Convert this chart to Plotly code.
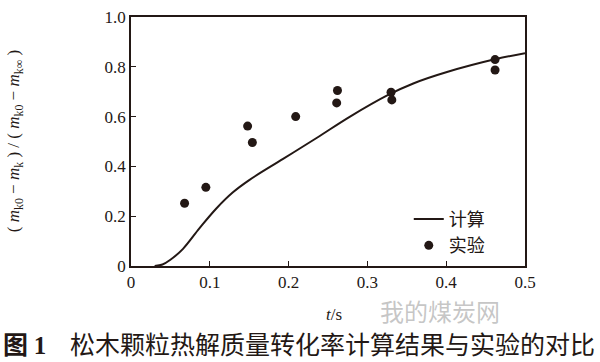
import plotly.graph_objects as go

# Calculated curve
calc_t = [0.030, 0.040, 0.050, 0.066, 0.087, 0.108, 0.129, 0.150, 0.193,
          0.236, 0.278, 0.327, 0.359, 0.401, 0.463, 0.500]
calc_y = [0.000, 0.006, 0.025, 0.069, 0.152, 0.230, 0.295, 0.345, 0.430,
          0.515, 0.600, 0.688, 0.734, 0.779, 0.831, 0.855]

# Experimental points
exp_t = [0.068, 0.095, 0.148, 0.154, 0.209, 0.262, 0.261, 0.330, 0.331, 0.462, 0.462]
exp_y = [0.252, 0.316, 0.562, 0.496, 0.600, 0.705, 0.655, 0.698, 0.667, 0.829, 0.787]

x_ticks = [0, 0.1, 0.2, 0.3, 0.4, 0.5]
x_labels = ["0", "0.1", "0.2", "0.3", "0.4", "0.5"]
y_ticks = [0, 0.2, 0.4, 0.6, 0.8, 1.0]
y_labels = ["0", "0.2", "0.4", "0.6", "0.8", "1.0"]

ink = "#231815"
serif = "Liberation Serif"
cjk = "Noto Sans CJK SC"

fig = go.Figure()
fig.add_trace(go.Scatter(x=calc_t, y=calc_y, mode="lines", name="计算",
                         line=dict(color=ink, width=2, shape="spline", smoothing=1.0)))
fig.add_trace(go.Scatter(x=exp_t, y=exp_y, mode="markers", name="实验",
                         marker=dict(color=ink, size=9)))

axis_common = dict(showgrid=False, zeroline=False, showline=True, linecolor=ink, linewidth=1.8,
                   mirror=True, ticks="inside", ticklen=5, tickwidth=1.2, tickcolor=ink,
                   ticklabeloverflow="allow",
                   tickfont=dict(family=serif, size=17, color=ink))

fig.update_layout(
    width=600, height=362,
    margin=dict(l=131, r=75, t=8, b=96),
    paper_bgcolor="white", plot_bgcolor="white",
    font=dict(family=serif, color=ink),
    showlegend=True,
    legend=dict(x=0.705, y=0.262, xanchor="left", yanchor="top",
                font=dict(family=cjk, size=18, color=ink), bgcolor="rgba(0,0,0,0)",
                tracegroupgap=0, itemwidth=30),
    xaxis=dict(range=[0, 0.5], tickvals=x_ticks, ticktext=x_labels, **axis_common),
    yaxis=dict(range=[0, 1.0], tickvals=y_ticks, ticktext=y_labels, **axis_common),
)

fig.add_annotation(xref="paper", yref="paper", x=0.515, y=-0.193, xanchor="center", yanchor="middle",
                   text="<i>t</i>/s", showarrow=False, font=dict(family=serif, size=17, color=ink))
fig.add_annotation(xref="paper", yref="paper", x=-0.295, y=0.5, xanchor="center", yanchor="middle",
                   textangle=-90, showarrow=False,
                   text="( <i>m</i><sub>k0</sub> − <i>m</i><sub>k</sub> ) / ( <i>m</i><sub>k0</sub> − <i>m</i><sub>k∞</sub> )",
                   font=dict(family=serif, size=17, color=ink))
fig.add_annotation(xref="paper", yref="paper", x=0.784, y=-0.178, xanchor="center", yanchor="middle",
                   text="我的煤炭网", showarrow=False,
                   font=dict(family=cjk, size=24, color="rgba(160,160,160,0.6)"))
fig.add_annotation(xref="paper", yref="paper", x=-0.329, y=-0.31, xanchor="left", yanchor="middle",
                   text="<b>图 <span style='font-family:Liberation Serif'>1</span></b>\u2002\u00a0\u00a0松木颗粒热解质量转化率计算结果与实验的对比",
                   showarrow=False,
                   font=dict(family=cjk, size=25, color=ink))

fig.write_html("out.html", config={"displayModeBar": False},
               post_script="document.body.style.margin='0';document.body.style.overflow='hidden';")
